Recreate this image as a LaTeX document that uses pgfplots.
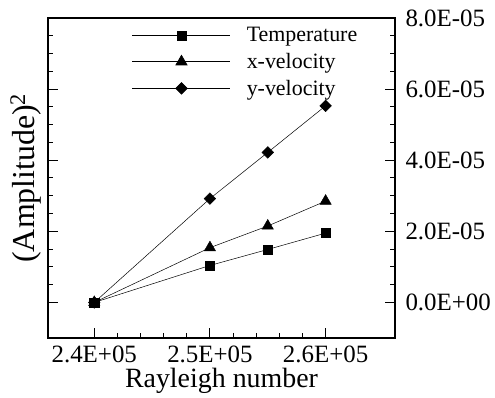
\documentclass[border=0pt]{standalone}
\usepackage{fontspec}
\setmainfont{Liberation Serif}
\usepackage{pgfplots}
\pgfplotsset{compat=1.18}
\begin{document}
\begin{tikzpicture}
\begin{axis}[
  at={(0,0)}, anchor=south west,
  scale only axis,
  width=347bp, height=320bp,
  xmin=236000, xmax=266000,
  ymin=-1e-5, ymax=8e-5,
  xtick={240000,250000,260000},
  xticklabels={2.4E+05,2.5E+05,2.6E+05},
  ytick={0,2e-5,4e-5,6e-5,8e-5},
  yticklabels={0.0E+00,2.0E-05,4.0E-05,6.0E-05,8.0E-05},
  scaled x ticks=false, scaled y ticks=false,
  minor x tick num=4, minor y tick num=3,
  xtick pos=bottom, ytick pos=both, yticklabel pos=right,
  tick align=inside,
  major tick length=10bp, minor tick length=5bp,
  every tick/.style={black, line width=1bp},
  axis line style={line width=1.6bp},
  ticklabel style={font=\fontsize{25}{25}\selectfont},
  /pgf/number format/assume math mode=true,
  xticklabel style={yshift=-4bp},
  yticklabel style={xshift=7bp},
  xlabel={Rayleigh number},
  xlabel style={font=\fontsize{28}{28}\selectfont, yshift=1bp},
  ylabel={(Amplitude)\textsuperscript{2}},
  ylabel style={font=\fontsize{32}{32}\selectfont, at={(rel axis cs:-0.01,0.5)}, anchor=south},
  legend style={draw=none, fill=none, inner sep=0pt,
    at={(rel axis cs:0.242,0.974)}, anchor=north west,
    font=\fontsize{22}{22}\selectfont,
    row sep=8bp,
    nodes={inner sep=1bp},
    /tikz/every odd column/.append style={column sep=15bp}},
  legend cell align=left,
  legend image code/.code={
    \draw[mark repeat=2,mark phase=2,line width=0.6bp] plot coordinates {(0bp,0bp) (49bp,0bp) (98bp,0bp)};},
]
\addplot[black, line width=0.5bp, mark=square*, mark size=4.6bp, mark options={solid}]
  coordinates {(240000,0) (250000,1.04e-5) (255000,1.49e-5) (260000,1.95e-5)};
\addlegendentry{Temperature}
\addplot[black, line width=0.5bp, mark=triangle*, mark size=6.5bp, mark options={solid}]
  coordinates {(240000,0) (250000,1.54e-5) (255000,2.15e-5) (260000,2.85e-5)};
\addlegendentry{x-velocity}
\addplot[black, line width=0.5bp, mark=square*, mark size=4.1bp, mark options={solid, rotate=45}]
  coordinates {(240000,0) (250000,2.92e-5) (255000,4.22e-5) (260000,5.53e-5)};
\addlegendentry{y-velocity}
\end{axis}
\pgfresetboundingbox
\path[use as bounding box] (-48bp,-60bp) rectangle (447bp,338bp);
\end{tikzpicture}
\end{document}
